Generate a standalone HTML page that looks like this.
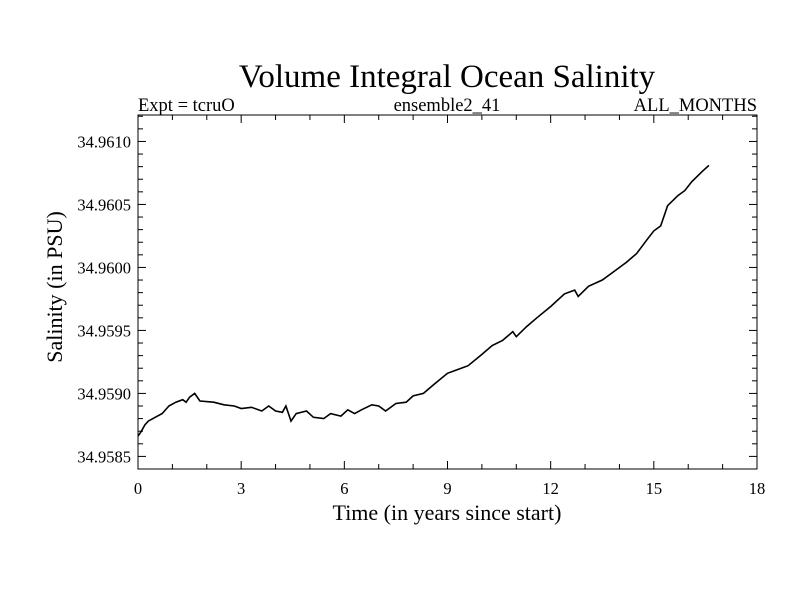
<!DOCTYPE html>
<html><head><meta charset="utf-8"><style>
body{margin:0;background:#fff}
svg text{font-family:"Liberation Serif",serif;fill:#000}
</style></head><body>
<svg id="c" width="800" height="600">
<text x="447" y="87" font-size="33" text-anchor="middle">Volume Integral Ocean Salinity</text>
<text x="138" y="111" font-size="18.5">Expt = tcruO</text>
<text x="447" y="111" font-size="18.5" text-anchor="middle">ensemble2_41</text>
<text x="757" y="111" font-size="18.5" text-anchor="end">ALL_MONTHS</text>
<text x="447" y="520" font-size="22" text-anchor="middle">Time (in years since start)</text>
<text transform="translate(62,287) rotate(-90)" font-size="22" text-anchor="middle">Salinity (in PSU)</text>
<rect x="138" y="115" width="619" height="354" fill="none" stroke="#000" stroke-width="1"/>
<g id="ticks"></g>
<path id="line" fill="none" stroke="#000" stroke-width="1.6"/>
</svg>
<script>
const years=[0,0.1,0.2,0.3,0.5,0.7,0.9,1.1,1.3,1.4,1.5,1.65,1.8,2.2,2.5,2.8,3.0,3.3,3.6,3.8,4.0,4.2,4.3,4.45,4.6,4.9,5.1,5.4,5.6,5.9,6.1,6.3,6.5,6.8,7.0,7.2,7.5,7.8,8.0,8.3,8.6,9.0,9.3,9.6,10.0,10.3,10.6,10.9,11.0,11.3,11.6,12.0,12.4,12.7,12.8,13.1,13.5,13.8,14.2,14.5,14.8,15.0,15.2,15.4,15.7,15.9,16.1,16.4,16.6];
const salinity=[34.95866,34.95870,34.95875,34.95878,34.95881,34.95884,34.95890,34.95893,34.95895,34.95893,34.95897,34.95900,34.95894,34.95893,34.95891,34.95890,34.95888,34.95889,34.95886,34.95890,34.95886,34.95885,34.95890,34.95878,34.95884,34.95886,34.95881,34.95880,34.95884,34.95882,34.95887,34.95884,34.95887,34.95891,34.95890,34.95886,34.95892,34.95893,34.95898,34.95900,34.95907,34.95916,34.95919,34.95922,34.95931,34.95938,34.95942,34.95949,34.95945,34.95953,34.95960,34.95969,34.95979,34.95982,34.95977,34.95985,34.95990,34.95996,34.96004,34.96011,34.96022,34.96029,34.96033,34.96049,34.96057,34.96061,34.96068,34.96076,34.96081];
const xTickLabels=["0","3","6","9","12","15","18"];
const yTickLabels=["34.9585","34.9590","34.9595","34.9600","34.9605","34.9610"];
const L=138,R=757,T=115,B=469;
const X0=0,X1=18,Y0=34.95840,Y1=34.96121;
const sx=v=>L+(v-X0)/(X1-X0)*(R-L);
const sy=v=>B-(v-Y0)/(Y1-Y0)*(B-T);
const NS="http://www.w3.org/2000/svg";
const g=document.getElementById('ticks');
function ln(x1,y1,x2,y2){const l=document.createElementNS(NS,'line');
l.setAttribute('x1',x1);l.setAttribute('y1',y1);l.setAttribute('x2',x2);l.setAttribute('y2',y2);
l.setAttribute('stroke','#000');


g.appendChild(l);}
function tx(x,y,s,anchor,name){const t=document.createElementNS(NS,'text');
t.setAttribute('x',x);t.setAttribute('y',y);t.setAttribute('font-size','16.5');t.setAttribute('text-anchor',anchor);t.textContent=s;


g.appendChild(t);}
for(let v=0;v<=18;v++){const x=sx(v),len=v%3===0?8:5;ln(x,B,x,B-len);ln(x,T,x,T+len);}
xTickLabels.forEach(s=>tx(sx(+s),494,s,'middle','x-tick-label'));
for(let i=-1;i<=27;i++){const v=34.9585+i*0.0001;if(v<Y0||v>Y1)continue;const y=sy(v),len=i%5===0?8:5;ln(L,y,L+len,y);ln(R,y,R-len,y);}
yTickLabels.forEach(s=>tx(L-7,sy(+s)+6,s,'end','y-tick-label'));
document.getElementById('line').setAttribute('d',years.map((t,i)=>(i?'L':'M')+sx(t).toFixed(1)+' '+sy(salinity[i]).toFixed(1)).join(' '));
</script>
</body></html>
